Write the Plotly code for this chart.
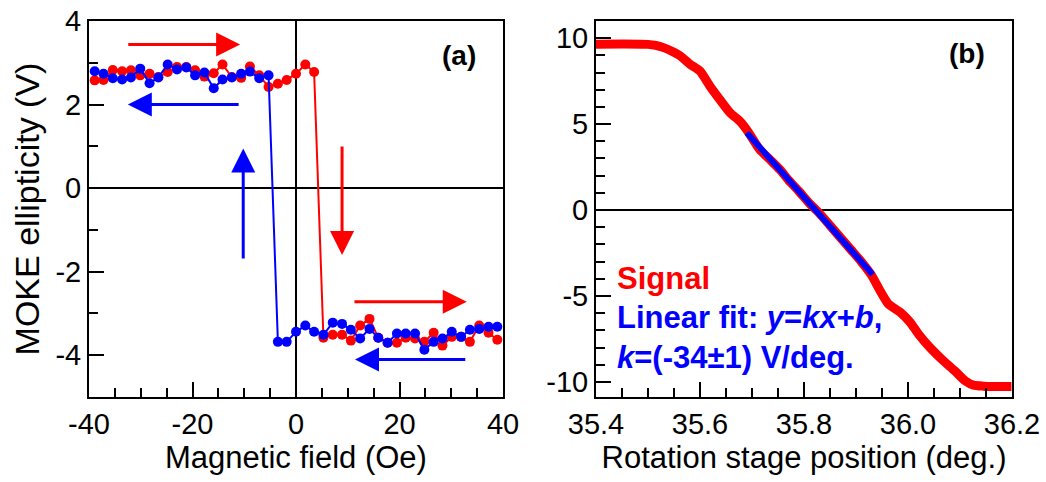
import plotly.graph_objects as go

# ---------------- data: panel (a) ----------------
field = [-38.9, -37.2, -35.4, -33.6, -31.9, -30.1, -28.3, -26.6, -24.8, -23.0,
         -21.2, -19.5, -17.7, -15.9, -14.2, -12.4, -10.6, -8.9, -7.1, -5.3,
         -3.5, -1.8, 0.0, 1.8, 3.5, 5.3, 7.1, 8.9, 10.6, 12.4,
         14.2, 15.9, 17.7, 19.5, 21.2, 23.0, 24.8, 26.6, 28.3, 30.1,
         31.9, 33.6, 35.4, 37.2, 38.9]

# increasing-field sweep (red)
red_moke = [2.58, 2.59, 2.83, 2.80, 2.82, 2.70, 2.74, 2.66, 2.78, 2.90,
            2.90, 2.82, 2.67, 2.75, 2.96, 2.66, 2.64, 2.91, 2.70, 2.42,
            2.50, 2.59, 2.74, 2.96, 2.78,
            -3.58, -3.51, -3.51, -3.65, -3.29, -3.13, -3.58, -3.70, -3.70, -3.58,
            -3.60, -3.68, -3.46, -3.77, -3.56, -3.56, -3.68, -3.29, -3.46, -3.63]

# decreasing-field sweep (blue)
blue_moke = [2.80, 2.74, 2.63, 2.60, 2.65, 2.86, 2.51, 2.65, 2.96, 2.84,
             2.89, 2.70, 2.77, 2.39, 2.60, 2.65, 2.74, 2.79, 2.63, 2.70,
             -3.68, -3.68, -3.44, -3.29, -3.44, -3.51, -3.22, -3.25, -3.39, -3.60,
             -3.37, -3.58, -3.70, -3.48, -3.48, -3.48, -3.87, -3.68, -3.60, -3.44,
             -3.56, -3.39, -3.37, -3.32, -3.32]

field_ticks = [-40, -20, 0, 20, 40]
field_ticktext = ["-40", "-20", "0", "20", "40"]
moke_ticks = [-4, -2, 0, 2, 4]
moke_ticktext = ["-4", "-2", "0", "2", "4"]

# ---------------- data: panel (b) ----------------
stage_pos = [35.400, 35.450, 35.500, 35.515, 35.530, 35.545, 35.562, 35.581, 35.600, 35.619,
             35.638, 35.658, 35.677, 35.692, 35.715, 35.735, 35.754, 35.770, 35.790, 35.810,
             35.830, 35.850, 35.870, 35.890, 35.910, 35.930, 35.946, 35.962, 35.985, 36.004,
             36.020, 36.042, 36.068, 36.090, 36.110, 36.126, 36.145, 36.164, 36.199]
signal = [9.65, 9.66, 9.64, 9.58, 9.45, 9.25, 8.97, 8.48, 8.09, 7.21,
          6.43, 5.65, 5.16, 4.58, 3.51, 2.92, 2.34, 1.75, 1.10, 0.40,
          -0.20, -0.90, -1.60, -2.30, -3.00, -3.80, -4.68, -5.46, -5.95, -6.53,
          -7.21, -7.99, -8.77, -9.36, -9.94, -10.19, -10.25, -10.27, -10.27]

fit_pos = [35.690, 35.932]
fit_val = [4.50, -3.75]

stage_ticks = [35.4, 35.6, 35.8, 36.0, 36.2]
stage_ticktext = ["35.4", "35.6", "35.8", "36.0", "36.2"]
signal_ticks = [-10, -5, 0, 5, 10]
signal_ticktext = ["-10", "-5", "0", "5", "10"]

RED = "#FF0000"
BLUE = "#0000FF"
FONT = "Liberation Sans, Arial, sans-serif"

fig = go.Figure()

fig.add_trace(go.Scatter(x=field, y=red_moke, mode="lines+markers",
                         line=dict(color=RED, width=2),
                         marker=dict(color=RED, size=10),
                         xaxis="x", yaxis="y", showlegend=False))
fig.add_trace(go.Scatter(x=field, y=blue_moke, mode="lines+markers",
                         line=dict(color=BLUE, width=2),
                         marker=dict(color=BLUE, size=10),
                         xaxis="x", yaxis="y", showlegend=False))

fig.add_trace(go.Scatter(x=stage_pos, y=signal, mode="lines",
                         line=dict(color=RED, width=9, shape="spline", smoothing=0.6),
                         xaxis="x2", yaxis="y2", showlegend=False))
fig.add_trace(go.Scatter(x=fit_pos, y=fit_val, mode="lines",
                         line=dict(color=BLUE, width=6),
                         xaxis="x2", yaxis="y2", showlegend=False))

H = 482.0
W = 1046.0
ydom = [1 - 397 / H, 1 - 21 / H]

common = dict(showline=True, linewidth=2, linecolor="black", mirror=True,
              ticks="inside", ticklen=15, tickwidth=2, tickcolor="black",
              showgrid=False, zeroline=True, zerolinecolor="black", zerolinewidth=2,
              automargin=False, tickmode="array",
              tickfont=dict(family=FONT, size=29, color="black"))

def minor(d, t0):
    return dict(tick0=t0, dtick=d, ticks="inside", ticklen=9, tickwidth=2,
                tickcolor="black", showgrid=False)

fig.update_layout(
    width=1046, height=482, autosize=False,
    margin=dict(l=0, r=0, t=0, b=0),
    paper_bgcolor="white", plot_bgcolor="white",
    xaxis=dict(domain=[89 / W, 503 / W], range=[-40, 40],
               tickvals=field_ticks, ticktext=field_ticktext,
               minor=minor(5, 0), anchor="y",
               title=dict(text="Magnetic field (Oe)", standoff=6,
                          font=dict(family=FONT, size=31, color="black")),
               **common),
    yaxis=dict(domain=ydom, range=[-5, 4.001],
               tickvals=moke_ticks, ticktext=moke_ticktext,
               minor=minor(1, 0), anchor="x",
               title=dict(text="MOKE ellipticity (V)", standoff=6,
                          font=dict(family=FONT, size=34, color="black")),
               **common),
    xaxis2=dict(domain=[596 / W, 1012 / W], range=[35.4, 36.2],
                tickvals=stage_ticks, ticktext=stage_ticktext,
                minor=minor(0.05, 35.4), anchor="y2",
                title=dict(text="Rotation stage position (deg.)", standoff=6,
                           font=dict(family=FONT, size=31, color="black")),
                **common),
    yaxis2=dict(domain=ydom, range=[-10.88, 11.0],
                tickvals=signal_ticks, ticktext=signal_ticktext,
                minor=minor(1, 0), anchor="x2",
                **common),
)

# arrows in panel (a)
arrows = [
    # (head_x, head_y, tail_x, tail_y, color)
    (-10.8, 3.44, -32.7, 3.44, RED),
    (-32.5, 2.00, -10.8, 2.00, BLUE),
    (-10.2, 0.95, -10.2, -1.72, BLUE),
    (8.9, -1.60, 8.9, 1.03, RED),
    (33.0, -2.72, 11.0, -2.72, RED),
    (11.4, -4.10, 33.0, -4.10, BLUE),
]
for hx, hy, tx, ty, c in arrows:
    fig.add_annotation(x=hx, y=hy, ax=tx, ay=ty, xref="x", yref="y", axref="x", ayref="y",
                       text="", showarrow=True, arrowhead=2, arrowsize=1.6, arrowwidth=3,
                       arrowcolor=c, standoff=0)

fig.add_annotation(x=459 / W, y=1 - 55 / H, xref="paper", yref="paper", text="<b>(a)</b>",
                   showarrow=False, font=dict(family=FONT, size=28, color="black"),
                   xanchor="center", yanchor="middle")
fig.add_annotation(x=967 / W, y=1 - 53 / H, xref="paper", yref="paper", text="<b>(b)</b>",
                   showarrow=False, font=dict(family=FONT, size=28, color="black"),
                   xanchor="center", yanchor="middle")

legend_lines = [
    ("<b>Signal</b>", RED, 278),
    ("<b>Linear fit: <i>y</i>=<i>kx</i>+<i>b</i>,</b>", BLUE, 317),
    ("<b><i>k</i>=(-34±1) V/deg.</b>", BLUE, 357),
]
for txt, c, py in legend_lines:
    fig.add_annotation(x=615 / W, y=1 - py / H, xref="paper", yref="paper", text=txt,
                       showarrow=False, font=dict(family=FONT, size=31, color=c),
                       xanchor="left", yanchor="middle")

fig.write_html("out.html")
